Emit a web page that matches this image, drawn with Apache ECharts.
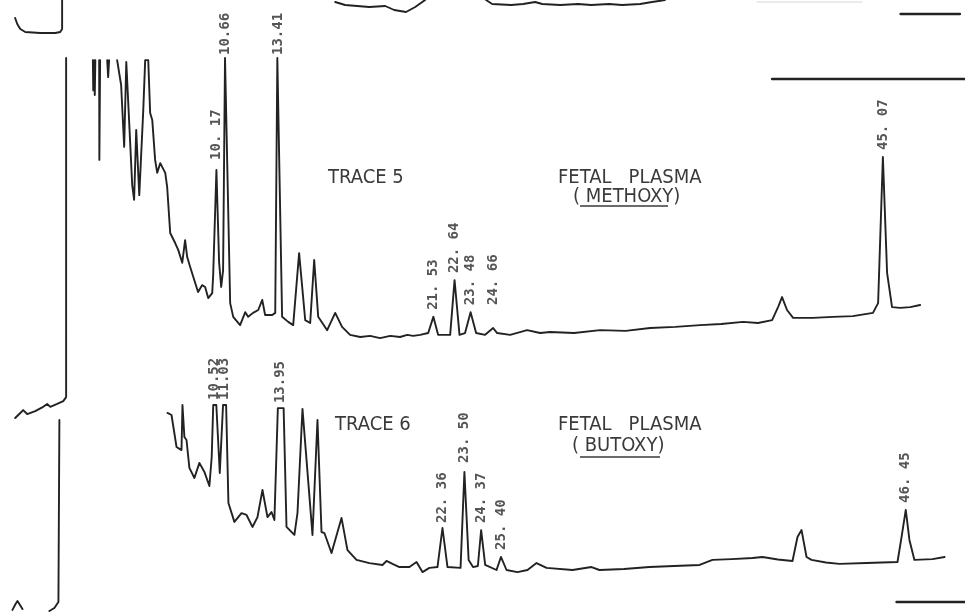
<!DOCTYPE html>
<html>
<head>
<meta charset="utf-8">
<script src="https://cdn.jsdelivr.net/npm/echarts@6/dist/echarts.min.js"></script>
<style>
  html, body { margin: 0; padding: 0; background: #ffffff; }
  #chart { width: 965px; height: 612px; }
</style>
</head>
<body>
<div id="chart"></div>
<script>
// Gas chromatograms of fetal plasma extracts: retention time (min) vs detector response (% of full scale).
// '-' marks a break in the pen trace (pen off scale).
const GAP = ['-', '-'];

// Tail of the preceding trace, along the top of the chart paper
const trace4 = [
  [-0.37, 55], [-0.26, 40], [-0.10, 27.5], [0.16, 20], [0.94, 17.5], [1.73, 17.5], [1.99, 20], [2.09, 27.5], [2.09, 100],
  GAP,
  [16.39, 95], [16.91, 87.5], [18.17, 82.5], [19.01, 85], [19.48, 75], [20.10, 70], [20.58, 82.5], [21.10, 100],
  GAP,
  [24.29, 100], [24.61, 90], [25.60, 87.5], [26.23, 90], [26.86, 95], [27.23, 90], [28.17, 87.5], [29.11, 90],
  [29.79, 87.5], [30.73, 90], [31.41, 87.5], [32.36, 90], [32.98, 95], [33.66, 100]
];
const trace4Faint = [[38.48, 95], [43.98, 95]];

// Trace 5 – fetal plasma, methoxy derivatives
const trace5 = [
  [-0.37, 0.0], [-0.10, 1.4], [0.05, 2.2], [0.26, 1.1], [0.68, 1.9], [1.10, 3.1], [1.31, 3.9], [1.47, 3.1],
  [1.83, 3.9], [2.15, 4.7], [2.30, 5.8], [2.30, 100],
  GAP,
  [3.70, 99.4], [3.72, 91.0], [3.77, 99.4], [3.80, 89.7], [3.83, 99.4],
  GAP,
  [4.03, 99.4], [4.04, 71.7], [4.08, 99.4],
  GAP,
  [4.45, 99.4], [4.50, 94.7], [4.55, 99.4],
  GAP,
  [4.97, 99.4], [5.18, 92.5], [5.34, 75.3], [5.45, 98.9], [5.55, 99.4], [5.76, 64.7], [5.86, 60.6], [5.97, 80.0],
  [6.13, 61.9], [6.34, 85.6], [6.44, 99.4], [6.60, 99.4], [6.70, 84.7], [6.81, 82.8], [6.96, 71.7], [7.07, 68.1],
  [7.23, 70.8], [7.49, 68.1], [7.59, 64.2], [7.75, 51.4], [8.01, 48.6], [8.17, 46.7], [8.38, 43.1], [8.53, 49.4],
  [8.64, 44.7], [8.80, 41.9], [9.06, 37.5], [9.21, 35.0], [9.42, 36.9], [9.58, 36.4], [9.74, 33.3], [9.95, 34.7],
  [10.00, 39.7], [10.17, 68.9], [10.31, 43.3], [10.42, 36.4], [10.52, 41.1], [10.62, 100], [10.70, 100],
  [10.89, 31.9], [11.05, 28.1], [11.41, 25.8], [11.68, 29.4], [11.83, 28.1], [12.09, 29.2], [12.36, 30.0],
  [12.57, 32.8], [12.72, 28.6], [13.09, 28.6], [13.25, 29.2], [13.36, 100], [13.46, 100], [13.61, 28.1],
  [13.93, 26.7], [14.19, 25.8], [14.50, 45.8], [14.82, 27.2], [15.08, 26.4], [15.29, 43.9], [15.50, 28.1],
  [15.97, 24.4], [16.39, 29.2], [16.75, 25.3], [17.17, 23.1], [17.70, 22.5], [18.22, 22.8], [18.74, 22.2],
  [19.27, 22.8], [19.79, 22.5], [20.16, 23.1], [20.47, 22.8], [20.84, 23.1], [21.26, 23.6], [21.53, 28.1],
  [21.78, 23.1], [22.41, 23.1], [22.64, 38.3], [22.90, 23.1], [23.19, 23.6], [23.48, 29.4], [23.77, 23.6],
  [24.24, 23.1], [24.66, 25.0], [24.87, 23.6], [25.55, 23.1], [26.44, 24.4], [27.12, 23.6], [27.64, 23.9],
  [28.90, 23.6], [30.26, 24.4], [31.60, 24.2], [32.88, 25.0], [34.20, 25.3], [35.50, 25.8], [36.60, 26.1],
  [37.75, 26.7], [38.53, 26.4], [39.27, 27.2], [39.58, 30.8], [39.79, 33.6], [40.05, 30.0], [40.37, 27.8],
  [41.40, 27.8], [42.46, 28.1], [43.50, 28.3], [44.55, 29.2], [44.82, 31.9], [45.07, 72.5], [45.29, 40.3],
  [45.55, 30.8], [45.97, 30.6], [46.50, 30.8], [47.02, 31.4]
];

// Trace 6 – fetal plasma, butoxy derivatives
const trace6 = [
  [0.00, 1.0], [0.16, 3.8], [0.26, 5.2], [0.36, 3.8], [0.52, 1.4],
  GAP,
  [1.92, 0.5], [2.18, 1.9], [2.39, 4.8], [2.44, 5.7], [2.44, 91.4],
  GAP,
  [8.06, 94.8], [8.27, 93.8], [8.53, 78.6], [8.79, 77.1], [8.84, 98.6], [8.94, 83.3], [9.05, 81.9], [9.20, 68.6],
  [9.46, 63.8], [9.72, 71.0], [9.98, 66.7], [10.24, 60.0], [10.36, 73.8], [10.44, 98.6], [10.60, 98.6],
  [10.78, 66.2], [10.95, 98.6], [11.11, 98.6], [11.23, 51.9], [11.54, 42.9], [11.91, 47.1], [12.17, 46.2],
  [12.48, 40.5], [12.74, 45.2], [13.00, 58.1], [13.26, 45.2], [13.47, 47.6], [13.62, 43.8], [13.80, 97.1],
  [14.10, 97.1], [14.25, 40.5], [14.66, 36.7], [14.82, 47.1], [15.08, 96.7], [15.60, 36.7], [15.86, 91.4],
  [16.07, 38.1], [16.22, 37.6], [16.59, 28.1], [17.11, 44.8], [17.42, 29.5], [17.89, 24.8], [18.56, 23.3],
  [19.24, 22.4], [19.45, 24.3], [19.76, 22.9], [20.12, 21.4], [20.64, 21.4], [21.01, 23.8], [21.32, 19.0],
  [21.68, 21.0], [22.10, 21.4], [22.36, 40.0], [22.62, 21.4], [23.30, 21.0], [23.50, 66.7], [23.72, 24.8],
  [23.95, 21.4], [24.20, 21.9], [24.37, 39.0], [24.58, 22.4], [25.17, 20.0], [25.40, 26.2], [25.69, 20.0],
  [26.26, 19.0], [26.78, 20.0], [27.25, 23.3], [27.77, 21.0], [29.12, 20.0], [30.11, 21.4], [30.52, 20.0],
  [31.80, 20.5], [33.12, 21.4], [34.40, 21.9], [35.73, 22.4], [36.40, 24.8], [37.40, 25.2], [38.48, 25.7],
  [39.00, 26.2], [39.80, 25.0], [40.56, 24.3], [40.82, 35.7], [41.03, 39.0], [41.29, 26.2], [41.55, 24.8],
  [42.30, 23.6], [43.00, 22.9], [44.41, 23.3], [45.20, 23.6], [46.02, 23.8], [46.23, 35.7], [46.45, 48.6],
  [46.64, 34.3], [46.90, 24.8], [47.84, 25.2], [48.47, 26.2]
];

// Attenuation / scale markers at the right edge
const marker4 = [[46.0, 65], [49.1, 65]];
const marker5 = [[39.27, 94.2], [50, 94.2]];
const marker6 = [[45.97, 4.8], [50, 4.8]];

// Labelled peaks: retention time, apex response, printed label
const peak5Times = [10.17, 10.66, 13.41, 21.53, 22.64, 23.48, 24.66, 45.07];
const peak5Heights = [68.9, 100, 100, 28.1, 38.3, 29.4, 25.0, 72.5];
const peak5Labels = ['10. 17', '10.66', '13.41', '21. 53', '22. 64', '23. 48', '24. 66', '45. 07'];

const peak6Times = [10.52, 11.03, 13.95, 22.36, 23.50, 24.37, 25.40, 46.45];
const peak6Heights = [98.6, 98.6, 97.1, 40.0, 66.7, 39.0, 26.2, 48.6];
const peak6Labels = ['10.52', '11.03', '13.95', '22. 36', '23. 50', '24. 37', '25. 40', '46. 45'];

// Time windows shown across the paper width (the two runs were started at slightly different pen offsets)
const timeWindow5 = [-1.163, 49.37];
const timeWindow6 = [-0.648, 49.53];

// Gap (px) between each peak apex and the foot of its label
const labelGap5 = [10, 3, 3, 7, 7, 7, 23, 7];
const labelGap6 = [5, 5, 5, 5, 9, 7, 7, 7];

const INK = '#222222';
const labelFont = "'DejaVu Sans Mono', 'Liberation Mono', monospace";
const handFont = "'Liberation Sans Narrow', 'DejaVu Sans Condensed', 'Liberation Sans', sans-serif";

function lineSeries(data, idx, width, color) {
  return {
    type: 'line', xAxisIndex: idx, yAxisIndex: idx, data: data,
    showSymbol: false, symbol: 'none', connectNulls: false, clip: false, silent: true,
    lineStyle: { width: width, color: color || INK, cap: 'round', join: 'round' },
    z: 2
  };
}

function peakLabels(times, heights, labels, gaps, idx) {
  return {
    type: 'scatter', xAxisIndex: idx, yAxisIndex: idx, symbolSize: 0, silent: true, clip: false,
    data: times.map((t, i) => ({
      value: [t, heights[i]],
      label: { formatter: labels[i], distance: gaps[i] }
    })),
    label: {
      show: true, position: 'top', rotate: 90, align: 'left', verticalAlign: 'middle',
      fontFamily: labelFont, fontSize: 14, fontWeight: 'bold', color: '#2a2a2a'
    },
    z: 3
  };
}

const hidden = { show: false };
function xAxisFor(i, win) {
  return { gridIndex: i, type: 'value', min: win[0], max: win[1],
    axisLine: hidden, axisTick: hidden, axisLabel: hidden, splitLine: hidden };
}
function yAxisFor(i) {
  return { gridIndex: i, type: 'value', min: 0, max: 100,
    axisLine: hidden, axisTick: hidden, axisLabel: hidden, splitLine: hidden };
}

const textStyle = (size) => ({ fontFamily: handFont, fontSize: size, fill: '#3a3a3a' });

const option = {
  backgroundColor: '#ffffff',
  animation: false,
  grid: [
    { left: 0, right: 0, top: 0, height: 40 },
    { left: 0, right: 0, top: 58, height: 360 },
    { left: 0, right: 0, top: 402, height: 210 }
  ],
  xAxis: [xAxisFor(0, timeWindow5), xAxisFor(1, timeWindow5), xAxisFor(2, timeWindow6)],
  yAxis: [yAxisFor(0), yAxisFor(1), yAxisFor(2)],
  series: [
    lineSeries(trace4, 0, 1.9),
    lineSeries(trace4Faint, 0, 1.2, '#d8d8d8'),
    lineSeries(marker4, 0, 2.5),
    lineSeries(trace5, 1, 1.9),
    lineSeries(marker5, 1, 2.5),
    lineSeries(trace6, 2, 1.9),
    lineSeries(marker6, 2, 2.5),
    peakLabels(peak5Times, peak5Heights, peak5Labels, labelGap5, 1),
    peakLabels(peak6Times, peak6Heights, peak6Labels, labelGap6, 2)
  ],
  graphic: [
    { type: 'text', left: 328, top: 168, style: Object.assign({ text: 'TRACE 5' }, textStyle(20)) },
    { type: 'text', left: 558, top: 168, style: Object.assign({ text: 'FETAL   PLASMA' }, textStyle(20)) },
    { type: 'text', left: 573, top: 187, style: Object.assign({ text: '( METHOXY)' }, textStyle(20)) },
    { type: 'line', shape: { x1: 580, y1: 206, x2: 668, y2: 206 }, style: { stroke: '#3a3a3a', lineWidth: 1.3 } },
    { type: 'text', left: 335, top: 415, style: Object.assign({ text: 'TRACE 6' }, textStyle(20)) },
    { type: 'text', left: 558, top: 415, style: Object.assign({ text: 'FETAL   PLASMA' }, textStyle(20)) },
    { type: 'text', left: 572, top: 436, style: Object.assign({ text: '( BUTOXY)' }, textStyle(20)) },
    { type: 'line', shape: { x1: 580, y1: 457, x2: 660, y2: 457 }, style: { stroke: '#3a3a3a', lineWidth: 1.3 } }
  ]
};

const chart = echarts.init(document.getElementById('chart'), null, { renderer: 'canvas' });
chart.setOption(option);
</script>
</body>
</html>
